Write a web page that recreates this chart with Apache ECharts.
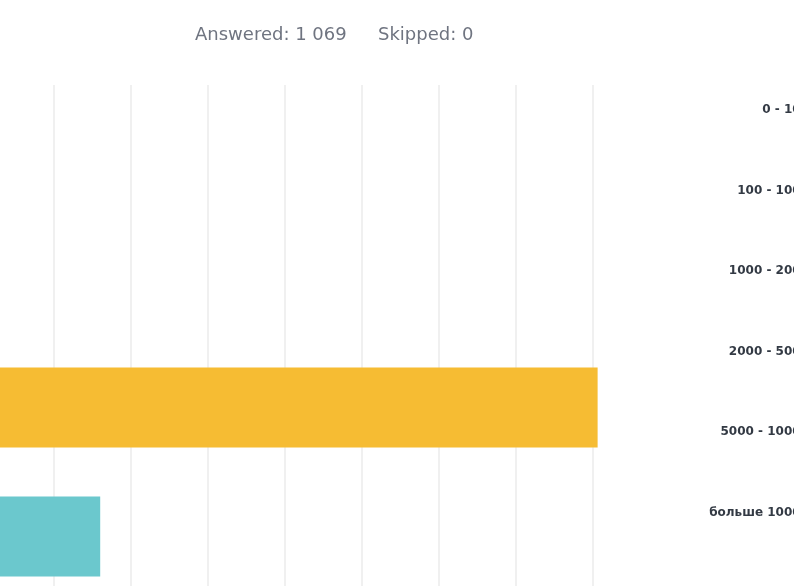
<!DOCTYPE html>
<html>
<head>
<meta charset="utf-8">
<script src="https://cdn.jsdelivr.net/npm/echarts@6/dist/echarts.min.js"></script>
<style>
html,body{margin:0;padding:0;background:#fff;}
#chart{width:794px;height:586px;}
</style>
</head>
<body>
<div id="chart"></div>
<script>
// Data
var categories = ['0 - 100', '100 - 1000', '1000 - 2000', '2000 - 5000', '5000 - 10000', 'больше 10000'];
var percentValues = [1.2, 0.9, 80.6, 16.0, 0.8, 0.5];
var barColors = ['#00BF6F', '#507CB6', '#F6BC33', '#6BC8CD', '#7D5BA6', '#D25F90'];
var answeredText = 'Answered: 1 069';
var skippedText = 'Skipped: 0';
var axisMin = 0, axisMax = 80, axisInterval = 10;

var chart = echarts.init(document.getElementById('chart'), null, {renderer: 'canvas'});
var option = {
  animation: false,
  backgroundColor: '#ffffff',
  title: [
    {text: answeredText, left: 190, top: 19,
     textStyle: {fontFamily: 'DejaVu Sans', fontSize: 18, fontWeight: 'normal', color: '#6f7480', lineHeight: 22}},
    {text: skippedText, left: 373, top: 19,
     textStyle: {fontFamily: 'DejaVu Sans', fontSize: 18, fontWeight: 'normal', color: '#6f7480', lineHeight: 22}}
  ],
  grid: [
    {left: -23, width: 616, top: 85, height: 774, containLabel: false, outerBoundsMode: 'none'},
    {left: 817, width: 60, top: 69.75, height: 483, containLabel: false, outerBoundsMode: 'none'}
  ],
  xAxis: [
    {gridIndex: 0, type: 'value', min: axisMin, max: axisMax, interval: axisInterval,
     axisLine: {show: false}, axisTick: {show: false}, axisLabel: {show: false},
     splitLine: {show: true, lineStyle: {color: '#ebebeb', width: 1.5}}},
    {gridIndex: 1, type: 'value', show: false}
  ],
  yAxis: [
    {gridIndex: 0, type: 'category', data: categories, inverse: true, show: false},
    {gridIndex: 1, type: 'category', data: categories, inverse: true, position: 'left',
     axisLine: {show: false}, axisTick: {show: false}, splitLine: {show: false},
     axisLabel: {show: true, margin: 8, fontFamily: 'DejaVu Sans', fontSize: 12, fontWeight: 'bold', color: '#333a44'}}
  ],
  series: [
    {type: 'bar', xAxisIndex: 0, yAxisIndex: 0, clip: false, barWidth: 80,
     data: percentValues.map(function (v, i) { return {value: v, itemStyle: {color: barColors[i]}}; })}
  ]
};
chart.setOption(option);
</script>
</body>
</html>
